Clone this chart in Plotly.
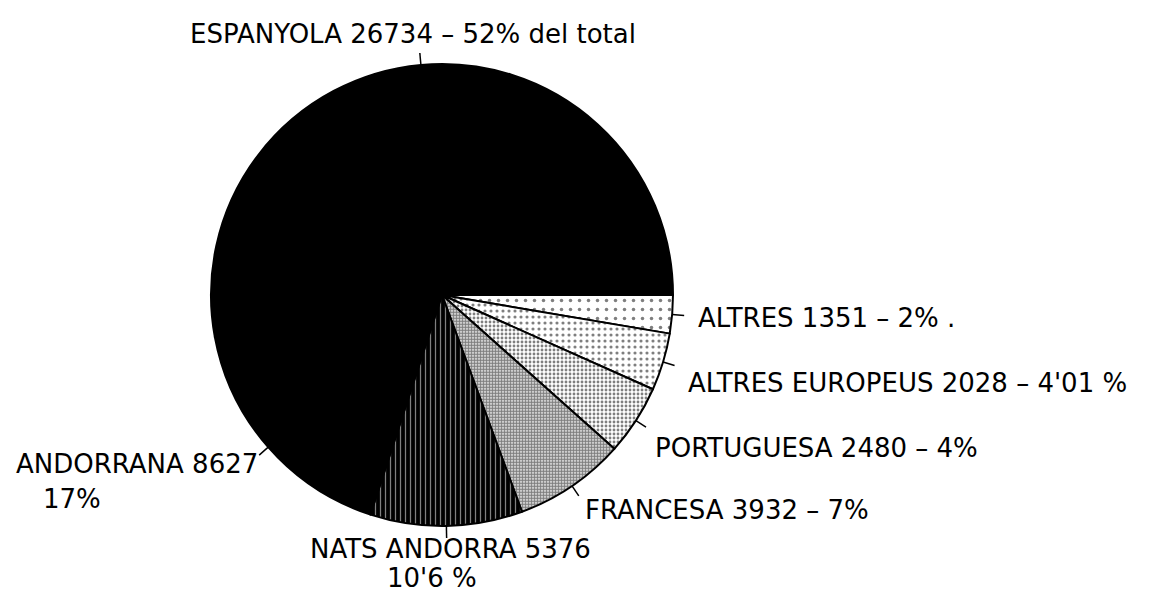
import math
import plotly.graph_objects as go

# ---- data ----
categories = ["ESPANYOLA", "ANDORRANA", "NATS ANDORRA", "FRANCESA",
              "PORTUGUESA", "ALTRES EUROPEUS", "ALTRES"]
values = [26734, 8627, 5376, 3932, 2480, 2028, 1351]
pct_labels = ["52% del total", "17%", "10'6 %", "7%", "4%", "4'01 %", "2% ."]
two_line = [False, True, True, False, False, False, False]

# ---- styles / layout constants ----
W, H = 1151, 592
CX, CY, R = 434, 287, 231
LEAD = 12
FONT = dict(family="DejaVu Sans", size=26, color="black")

pattern_shape = ["", "", "|", ".", ".", ".", "."]
pattern_fg = ["black", "black", "white", "black", "black", "black", "black"]
pattern_bg = ["black", "black", "black", "white", "white", "white", "white"]
pattern_size = [8, 8, 5, 3, 4, 6, 9]
pattern_sol = [0.3, 0.3, 0.25, 0.7, 0.4, 0.22, 0.12]

# label anchor positions (pixels: left x, centre y) for line 1 and line 2
label_pos1 = [(180, 26), (6, 456), (300, 541), (575, 502),
              (645, 440), (678, 375), (688, 310)]
label_pos2 = [None, (33, 491), (377, 570), None, None, None, None]


def px(x):
    return x / W


def py(y):
    return 1 - y / H


# Plotly draws clockwise from 3 o'clock; feed the slices in reverse so the
# first category runs counter-clockwise from 3 o'clock as in the original.
fig = go.Figure()
fig.add_trace(go.Pie(
    labels=categories[::-1], values=values[::-1], sort=False,
    direction="clockwise", rotation=90,
    textinfo="none", hoverinfo="label+value+percent",
    showlegend=False,
    domain=dict(x=[px(CX - R), px(CX + R)], y=[py(CY + R), py(CY - R)]),
    marker=dict(
        colors=pattern_bg[::-1],
        line=dict(color="black", width=2),
        pattern=dict(shape=pattern_shape[::-1], fgcolor=pattern_fg[::-1],
                     bgcolor=pattern_bg[::-1], size=pattern_size[::-1],
                     solidity=pattern_sol[::-1], fillmode="overlay"),
    ),
))

total = sum(values)
annotations = []
shapes = []
cum = 0.0
for i, (c, v) in enumerate(zip(categories, values)):
    mid = (cum + v / 2) / total * 2 * math.pi
    cum += v
    # leader line (radial), from pie edge outward
    x0, y0 = CX + R * math.cos(mid), CY - R * math.sin(mid)
    x1, y1 = CX + (R + LEAD) * math.cos(mid), CY - (R + LEAD) * math.sin(mid)
    shapes.append(dict(type="line", xref="paper", yref="paper",
                       x0=px(x0), y0=py(y0), x1=px(x1), y1=py(y1),
                       line=dict(color="black", width=1.5)))
    if two_line[i]:
        t1 = f"{c} {v}"
        t2 = pct_labels[i]
    else:
        t1 = f"{c} {v} – {pct_labels[i]}"
        t2 = None
    lx, ly = label_pos1[i]
    annotations.append(dict(text=t1, x=px(lx), y=py(ly), xref="paper", yref="paper",
                            xanchor="left", yanchor="middle", showarrow=False,
                            font=FONT))
    if t2:
        lx2, ly2 = label_pos2[i]
        annotations.append(dict(text=t2, x=px(lx2), y=py(ly2), xref="paper", yref="paper",
                                xanchor="left", yanchor="middle", showarrow=False,
                                font=FONT))

fig.update_layout(
    width=W, height=H,
    margin=dict(l=0, r=0, t=0, b=0),
    paper_bgcolor="white", plot_bgcolor="white",
    annotations=annotations, shapes=shapes,
)

fig.write_html("out.html")
